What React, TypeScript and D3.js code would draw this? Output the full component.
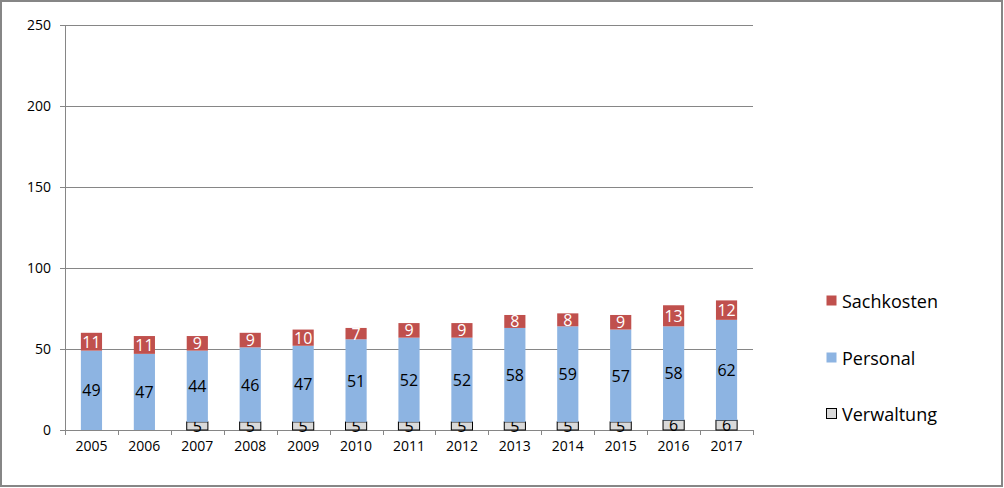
import React from "react";
import * as d3 from "d3";

const years = ["2005","2006","2007","2008","2009","2010","2011","2012","2013","2014","2015","2016","2017"];
const verwaltung = [0,0,5,5,5,5,5,5,5,5,5,6,6];
const personal = [49,47,44,46,47,51,52,52,58,59,57,58,62];
const sachkosten = [11,11,9,9,10,7,9,9,8,8,9,13,12];
const yTicks = [0,50,100,150,200,250];
const seriesNames = ["Verwaltung","Personal","Sachkosten"];

const colors: Record<string,string> = { Verwaltung: "#D9D9D9", Personal: "#8DB4E2", Sachkosten: "#C0504D" };
const FONT = "'Open Sans', 'Noto Sans', sans-serif";

export default function App() {
  const W = 1004, H = 488;
  const left = 65, right = 753, top = 25, bottom = 430;
  const rows = years.map((y, i) => ({ year: y, Verwaltung: verwaltung[i], Personal: personal[i], Sachkosten: sachkosten[i] }));
  const stack = d3.stack<any>().keys(seriesNames)(rows);
  const x = d3.scaleBand().domain(years).range([left, right]).paddingInner(0.6).paddingOuter(0.3);
  const xb = d3.scaleBand().domain(years).range([left, right]);
  const y = d3.scaleLinear().domain([0, 250]).range([bottom, top]);
  const grid = "#868686";
  const legend = [
    { name: "Sachkosten", y: 301 },
    { name: "Personal", y: 358 },
    { name: "Verwaltung", y: 414 },
  ];
  return (
    <svg width={W} height={H} style={{ position: "absolute", left: 0, top: 0, background: "#fff" }} fontFamily={FONT}>
      <rect x={1} y={1} width={W - 3} height={H - 3} fill="#fff" stroke={grid} strokeWidth={2} />
      {yTicks.map(t => (
        <g key={t}>
          <line x1={left - 5} x2={right} y1={Math.round(y(t)) + 0.5} y2={Math.round(y(t)) + 0.5} stroke={grid} strokeWidth={1} />
          <text x={51} y={y(t) + 5} textAnchor="end" fontSize={14} fill="#000">{t}</text>
        </g>
      ))}
      <line x1={left + 0.5} x2={left + 0.5} y1={y(250)} y2={bottom + 5} stroke={grid} />
      {years.map((yr) => (
        <line key={"t" + yr} x1={Math.round(xb(yr)!) + 0.5} x2={Math.round(xb(yr)!) + 0.5} y1={bottom} y2={bottom + 5} stroke={grid} />
      ))}
      <line x1={right + 0.5} x2={right + 0.5} y1={bottom} y2={bottom + 5} stroke={grid} />
      {stack.map(s => (
        <g key={s.key}>
          {s.map((d, i) => {
            const v = d[1] - d[0];
            if (v <= 0) return null;
            const y0 = y(d[0]), y1 = y(d[1]);
            const isV = s.key === "Verwaltung";
            return (
              <g key={i}>
                <rect x={x(years[i])!} y={y1} width={x.bandwidth()} height={y0 - y1} fill={colors[s.key]}
                  stroke={isV ? "#000" : "none"} strokeWidth={isV ? 1 : 0} />
                <text x={x(years[i])! + x.bandwidth() / 2} y={(y0 + y1) / 2 + 6} textAnchor="middle" fontSize={16}
                  fill={s.key === "Sachkosten" ? "#fff" : "#000"}>{v}</text>
              </g>
            );
          })}
        </g>
      ))}
      {years.map(yr => (
        <text key={"l" + yr} x={xb(yr)! + xb.bandwidth() / 2} y={451} textAnchor="middle" fontSize={14} fill="#000">{yr}</text>
      ))}
      {legend.map(l => (
        <g key={l.name}>
          <rect x={826.5} y={l.y - 5.5} width={10} height={10} fill={colors[l.name]}
            stroke={l.name === "Verwaltung" ? "#000" : "none"} />
          <text x={842} y={l.y + 6.5} fontSize={18} fill="#000">{l.name}</text>
        </g>
      ))}
    </svg>
  );
}
